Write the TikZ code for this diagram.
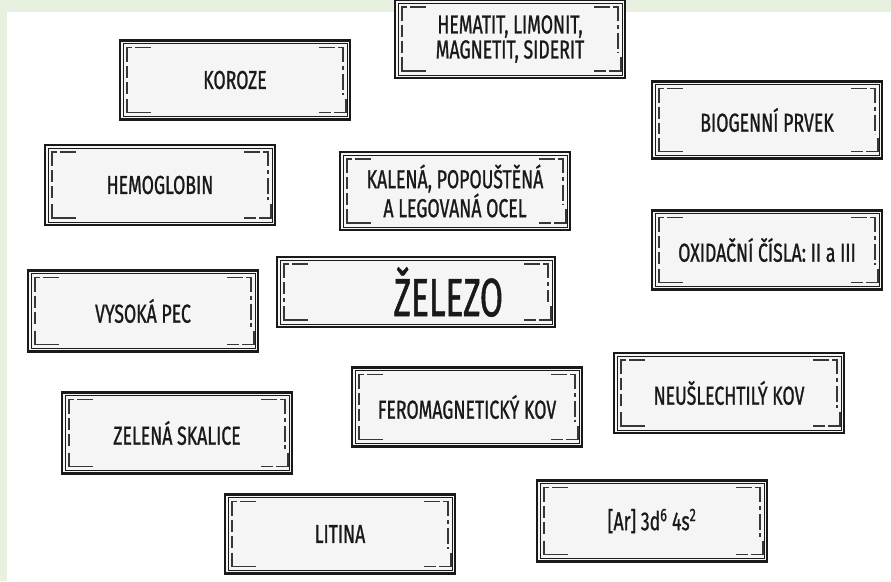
\documentclass[tikz,border=0pt]{standalone}
\usepackage{fontspec}
\setmainfont{Fira Sans}[FakeStretch=0.68,FakeBold=0.9]
\newfontfamily\titlefont{Fira Sans}[FakeStretch=0.62,FakeBold=0.9]
\usepackage{tikz}
\usetikzlibrary{calc}
\definecolor{leafgreen}{RGB}{232,240,223}
\definecolor{cardgray}{RGB}{245,245,245}
\definecolor{inkgray}{RGB}{25,25,25}
\definecolor{tickgray}{RGB}{55,55,55}
\newcommand{\cardticks}{%
\draw[inkgray,line width=0.8pt] ([shift={(3pt,-3pt)}]path picture bounding box.north west) rectangle ([shift={(-3pt,3pt)}]path picture bounding box.south east);
\draw[cardtick] ([shift={(7pt,-21pt)}]path picture bounding box.north west) -- ++(0,14pt) -- ++(5pt,0) ++(3pt,0) -- ++(16pt,0);
\draw[cardtick] ([shift={(-31pt,-7pt)}]path picture bounding box.north east) -- ++(16pt,0) ++(3pt,0) -- ++(5pt,0) -- ++(0,-14pt);
\draw[cardtick] ([shift={(7pt,21pt)}]path picture bounding box.south west) -- ++(0,-14pt) -- ++(24pt,0);
\draw[cardtick] ([shift={(-31pt,7pt)}]path picture bounding box.south east) -- ++(12pt,0) ++(3pt,0) -- ++(12pt,0) -- ++(0,14pt);
\draw[cardtick,dash pattern=on 12pt off 4pt] ([shift={(7pt,-25pt)}]path picture bounding box.north west) -- ([shift={(7pt,25pt)}]path picture bounding box.south west);
\draw[cardtick,dash pattern=on 4pt off 4pt on 16pt off 3pt] ([shift={(-7pt,-25pt)}]path picture bounding box.north east) -- ([shift={(-7pt,25pt)}]path picture bounding box.south east);
}

\begin{document}
\begin{tikzpicture}[x=1pt,y=-1pt]
\tikzstyle{cardtick}=[tickgray,line width=1.3pt]
\tikzstyle{card}=[draw=inkgray,line width=2.2pt,fill=cardgray,text=inkgray,align=center,minimum width=230pt,minimum height=79pt,inner sep=0pt,font=\fontsize{26}{25}\selectfont,path picture={\cardticks}]

\fill[leafgreen] (0,0) rectangle (891,581);
\fill[white] (7,12) rectangle (891,581);
\useasboundingbox (0,0) rectangle (891,581);

\node[card] (koroze) at (235,80) {KOROZE};
\node[card,minimum height=78pt] (rudy) at (510,39) {HEMATIT, LIMONIT,\\MAGNETIT, SIDERIT};
\node[card,minimum height=77pt] (biogen) at (767,120) {BIOGENNÍ PRVEK};
\node[card,minimum height=80pt] (hemo) at (160,185) {HEMOGLOBIN};
\node[card,minimum height=78pt] (ocel) at (455,191) {KALENÁ, POPOUŠTĚNÁ\\A LEGOVANÁ OCEL};
\node[card] (oxid) at (767,250) {OXIDAČNÍ ČÍSLA: II a III};
\node[card,minimum width=278pt,minimum height=70pt,font=\titlefont\fontsize{54}{56}\selectfont,text width=230pt,align=right] (zelezo) at (416,292) {ŽELEZO\hspace*{28pt}};
\node[card,minimum height=81pt] (pec) at (143,311) {VYSOKÁ PEC};
\node[card] (ferom) at (467,407) {FEROMAGNETICKÝ KOV};
\node[card,minimum height=80pt] (neusl) at (729,393) {NEUŠLECHTILÝ KOV};
\node[card,minimum height=81pt] (skalice) at (177,433) {ZELENÁ SKALICE};
\node[card] (litina) at (340,534) {LITINA};
\node[card,minimum height=81pt] (konfig) at (652,521) {[Ar] 3d\textsuperscript{6} 4s\textsuperscript{2}};
\end{tikzpicture}
\end{document}
